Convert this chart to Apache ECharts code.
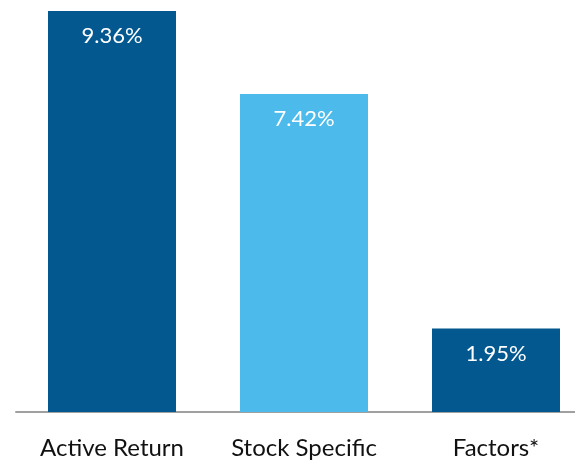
<!DOCTYPE html>
<html>
<head>
<meta charset="utf-8">
<script src="https://cdn.jsdelivr.net/npm/echarts@6/dist/echarts.min.js"></script>
<style>
  html, body { margin: 0; padding: 0; background: #fff; }
  #chart { width: 575px; height: 461px; }
</style>
</head>
<body>
<div id="chart"></div>
<script>
const categories = ['Active Return', 'Stock Specific', 'Factors*'];
const values = [9.36, 7.42, 1.95];
const barColors = ['#03598F', '#4CBBEB', '#03598F'];

const chart = echarts.init(document.getElementById('chart'));

const option = {
  backgroundColor: '#fff',
  animation: false,
  grid: { left: 16, top: 11, bottom: 49, right: -17, outerBoundsMode: 'none' },
  xAxis: {
    type: 'category',
    data: categories,
    axisTick: { show: false },
    axisLine: { lineStyle: { color: '#A0A0A0', width: 2 } },
    axisLabel: { color: '#111', fontSize: 24, fontFamily: 'Lato', margin: 24, interval: 0 }
  },
  yAxis: {
    type: 'value',
    min: 0,
    max: 9.36,
    show: false,
    splitLine: { show: false }
  },
  series: [{
    type: 'bar',
    barWidth: 128,
    data: values.map((v, i) => ({ value: v, itemStyle: { color: barColors[i] } })),
    label: {
      show: true,
      position: 'insideTop',
      distance: 14,
      color: '#fff',
      fontSize: 22,
      fontWeight: 'normal',
      fontFamily: 'Lato',
      formatter: p => p.value.toFixed(2) + '%'
    }
  }]
};

chart.setOption(option);
</script>
</body>
</html>
